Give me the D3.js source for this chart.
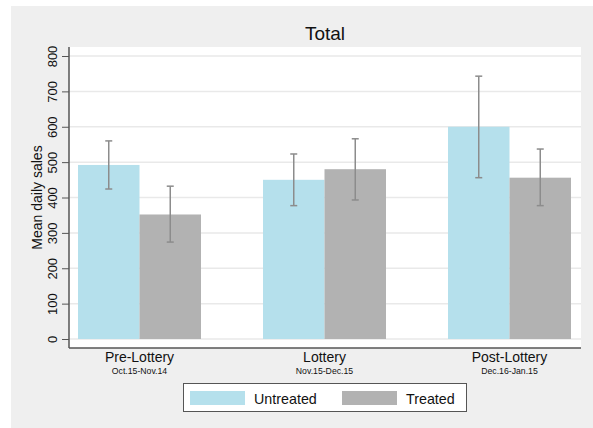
<!DOCTYPE html>
<html>
<head>
<meta charset="utf-8">
<script src="https://cdn.jsdelivr.net/npm/d3@7"></script>
<style>
  body { margin: 0; background: #fff; }
  svg { display: block; font-family: "Liberation Sans", Arial, Helvetica, sans-serif; }
</style>
</head>
<body>
<svg id="chart"></svg>
<script>
// data
const categories = ["Pre-Lottery", "Lottery", "Post-Lottery"];
const periods = ["Oct.15-Nov.14", "Nov.15-Dec.15", "Dec.16-Jan.15"];
const seriesNames = ["Untreated", "Treated"];
const untreatedMean = [492, 450, 600];
const untreatedLow = [424, 377, 456];
const untreatedHigh = [560, 523, 743];
const treatedMean = [352, 480, 456];
const treatedLow = [274, 393, 377];
const treatedHigh = [432, 566, 537];
const yTicks = [0, 100, 200, 300, 400, 500, 600, 700, 800];

const width = 593, height = 428;
const colors = {Untreated: "#b5e0ec", Treated: "#b2b2b2"};

// build rows for drawing
const rows = [];
categories.forEach((c, i) => {
    rows.push({cat: c, series: "Untreated", mean: untreatedMean[i], lo: untreatedLow[i], hi: untreatedHigh[i]});
    rows.push({cat: c, series: "Treated", mean: treatedMean[i], lo: treatedLow[i], hi: treatedHigh[i]});
});

const svg = d3.select("#chart")
    .attr("width", width)
    .attr("height", height);

// outer grey panel
svg.append("rect")
    .attr("x", 11).attr("y", 6)
    .attr("width", width - 11).attr("height", height - 6)
    .attr("fill", "#efefef");

// plot region
const plot = {left: 69, right: 581, top: 47, bottom: 348};
svg.append("rect")
    .attr("x", plot.left).attr("y", plot.top)
    .attr("width", plot.right - plot.left).attr("height", plot.bottom - plot.top)
    .attr("fill", "#fff");

const y = d3.scaleLinear().domain([0, 800]).range([339, 56]);

const x = d3.scaleBand()
    .domain(categories)
    .range([78, 571])
    .paddingInner(62 / 185)
    .paddingOuter(0);

const xs = d3.scaleBand()
    .domain(seriesNames)
    .range([0, x.bandwidth()]);

// gridlines
svg.append("g")
    .selectAll("line")
    .data(yTicks)
    .join("line")
    .attr("x1", plot.left).attr("x2", plot.right)
    .attr("y1", d => y(d)).attr("y2", d => y(d))
    .attr("stroke", "#e9e9e9")
    .attr("stroke-width", 1.5);

// bars
svg.append("g")
    .selectAll("rect")
    .data(rows)
    .join("rect")
    .attr("x", d => x(d.cat) + xs(d.series))
    .attr("y", d => y(d.mean))
    .attr("width", xs.bandwidth())
    .attr("height", d => y(0) - y(d.mean))
    .attr("fill", d => colors[d.series]);

// error bars
const eb = svg.append("g")
    .attr("stroke", "#8c8c8c")
    .attr("stroke-width", 1.5);

rows.forEach(d => {
    const cx = x(d.cat) + xs(d.series) + xs.bandwidth() / 2;
    eb.append("line")
        .attr("x1", cx).attr("x2", cx)
        .attr("y1", y(d.lo)).attr("y2", y(d.hi));
    [d.lo, d.hi].forEach(v => {
        eb.append("line")
            .attr("x1", cx - 3.5).attr("x2", cx + 3.5)
            .attr("y1", y(v)).attr("y2", y(v));
    });
});

// y axis
const yAxis = svg.append("g")
    .attr("transform", `translate(${plot.left},0)`)
    .call(d3.axisLeft(y).tickValues(yTicks).tickSize(7).tickPadding(5).tickSizeOuter(0));
yAxis.select(".domain").remove();
yAxis.selectAll(".tick line").attr("stroke", "#555");
yAxis.selectAll(".tick text")
    .attr("font-size", 13)
    .attr("fill", "#111")
    .attr("transform", d => `rotate(-90, -12, 0)`)
    .attr("x", -12)
    .attr("dx", 0)
    .attr("text-anchor", "middle")
    .attr("dy", 0);

svg.append("line")
    .attr("x1", plot.left).attr("x2", plot.left)
    .attr("y1", plot.top).attr("y2", plot.bottom)
    .attr("stroke", "#555").attr("stroke-width", 1.5);
svg.append("line")
    .attr("x1", plot.left).attr("x2", plot.right)
    .attr("y1", plot.bottom).attr("y2", plot.bottom)
    .attr("stroke", "#555").attr("stroke-width", 1.5);

// axis title
svg.append("text")
    .attr("transform", `translate(41.5, ${(plot.top + plot.bottom) / 2}) rotate(-90)`)
    .attr("text-anchor", "middle")
    .attr("font-size", 14)
    .attr("fill", "#111")
    .text("Mean daily sales");

// category labels
const catG = svg.append("g");
categories.forEach((c, i) => {
    const cx = x(c) + x.bandwidth() / 2;
    catG.append("text")
        .attr("x", cx).attr("y", 362)
        .attr("text-anchor", "middle")
        .attr("font-size", 14)
        .attr("fill", "#111")
        .text(c);
    catG.append("text")
        .attr("x", cx).attr("y", 373.5)
        .attr("text-anchor", "middle")
        .attr("font-size", 8.7)
        .attr("fill", "#111")
        .text(periods[i]);
});

// title
svg.append("text")
    .attr("x", 325).attr("y", 40)
    .attr("text-anchor", "middle")
    .attr("font-size", 19)
    .attr("fill", "#111")
    .text("Total");

// legend
const legend = svg.append("g");
legend.append("rect")
    .attr("x", 183.5).attr("y", 383.5)
    .attr("width", 283).attr("height", 28)
    .attr("fill", "#fff")
    .attr("stroke", "#555")
    .attr("stroke-width", 1);
const legendX = [190, 342];
seriesNames.forEach((s, i) => {
    legend.append("rect")
        .attr("x", legendX[i]).attr("y", 391)
        .attr("width", 55).attr("height", 14)
        .attr("fill", colors[s]);
    legend.append("text")
        .attr("x", legendX[i] + 64).attr("y", 404)
        .attr("font-size", 14.3)
        .attr("fill", "#111")
        .text(s);
});
</script>
</body>
</html>
